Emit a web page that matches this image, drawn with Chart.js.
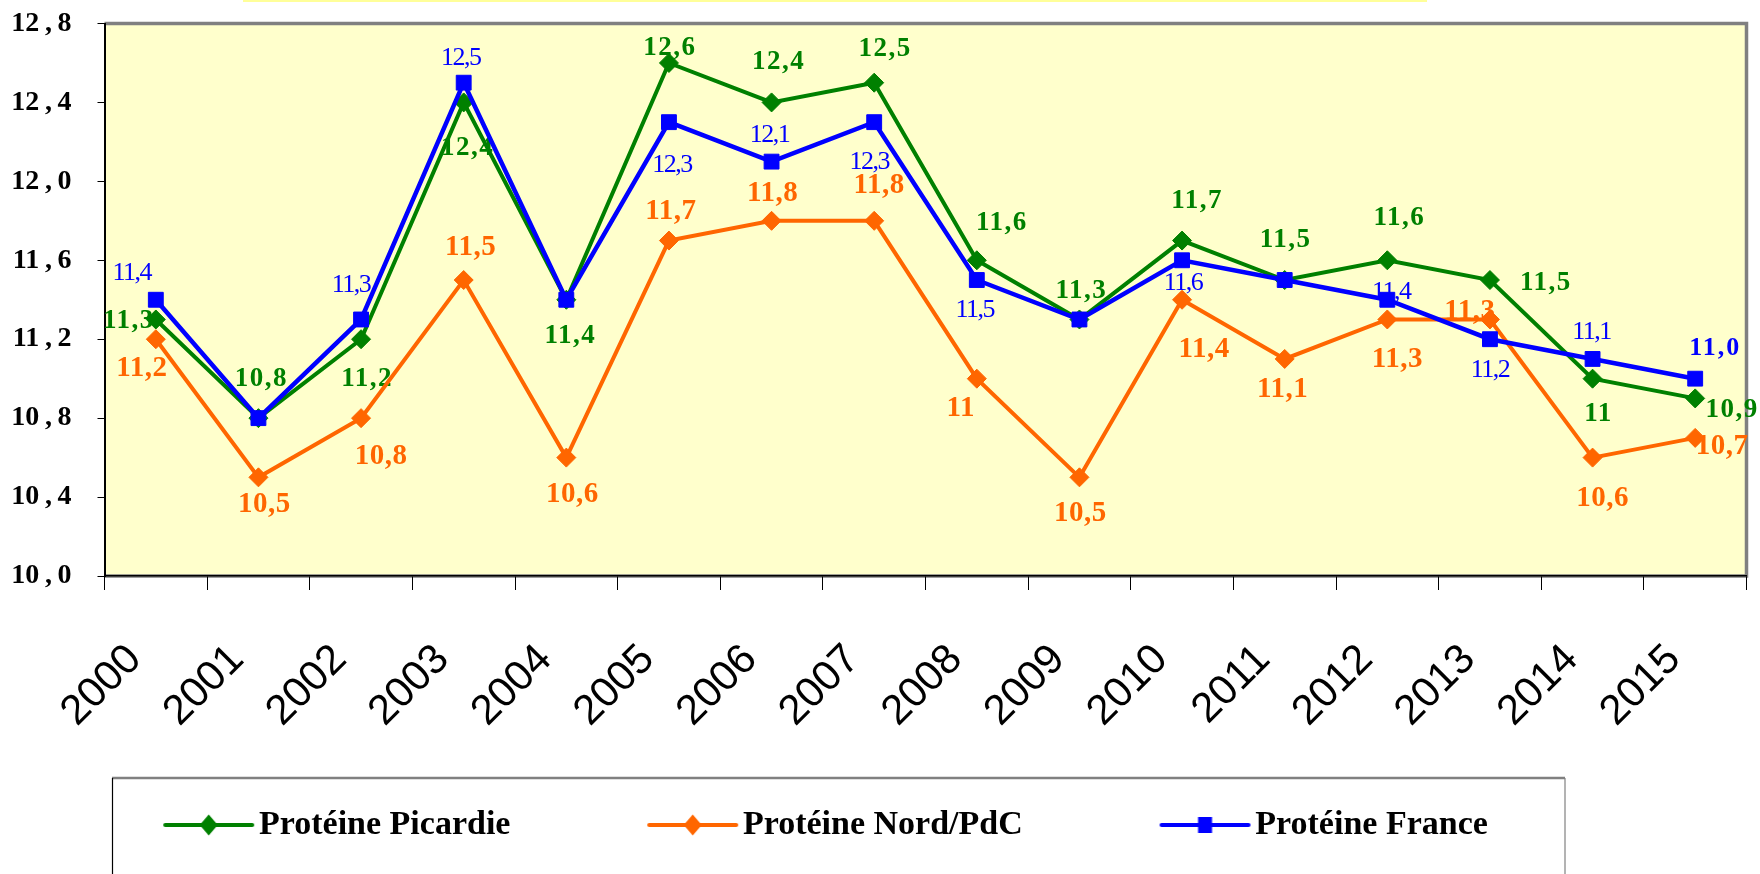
<!DOCTYPE html>
<html>
<head>
<meta charset="utf-8">
<script src="https://cdn.jsdelivr.net/npm/chart.js@4.4.1/dist/chart.umd.min.js"></script>
<style>
html,body{margin:0;padding:0;background:#ffffff;}
#wrap{width:1760px;height:874px;position:relative;}
</style>
</head>
<body>
<div id="wrap"><canvas id="c" width="1760" height="874"></canvas></div>
<script>
// ---------- data ----------
const categories = ['2000','2001','2002','2003','2004','2005','2006','2007','2008','2009','2010','2011','2012','2013','2014','2015'];
const seriesNames = ['Protéine Picardie', 'Protéine Nord/PdC', 'Protéine France'];
const picardie = [11.3, 10.8, 11.2, 12.4, 11.4, 12.6, 12.4, 12.5, 11.6, 11.3, 11.7, 11.5, 11.6, 11.5, 11.0, 10.9];
const nordPdc  = [11.2, 10.5, 10.8, 11.5, 10.6, 11.7, 11.8, 11.8, 11.0, 10.5, 11.4, 11.1, 11.3, 11.3, 10.6, 10.7];
const france   = [11.4, 10.8, 11.3, 12.5, 11.4, 12.3, 12.1, 12.3, 11.5, 11.3, 11.6, 11.5, 11.4, 11.2, 11.1, 11.0];
const yTickValues = [10.0, 10.4, 10.8, 11.2, 11.6, 12.0, 12.4, 12.8];
const yTickLabels = ['10,0', '10,4', '10,8', '11,2', '11,6', '12,0', '12,4', '12,8'];
const picardieLabels = ['11,3','10,8','11,2','12,4','11,4','12,6','12,4','12,5','11,6','11,3','11,7','11,5','11,6','11,5','11','10,9'];
const nordLabels     = ['11,2','10,5','10,8','11,5','10,6','11,7','11,8','11,8','11','10,5','11,4','11,1','11,3','11,3','10,6','10,7'];
const franceLabels   = ['11,4',null,'11,3','12,5',null,'12,3','12,1','12,3','11,5',null,'11,6',null,'11,4','11,2','11,1','11,0'];

// ---------- label placement (offsets from each point, px) ----------
const picardieDx = [-27, 3, 6, 4, 4, 1, 7, 11, 25, 2, 15, 1, 12, 56, 6, 37];
const picardieDy = [2, -39, 40, 46, 36, -15, -40, -34, -37, -28, -40, -40, -42, 3, 35, 12];
const nordDx = [-14, 6, 20, 7, 6, 2, 1, 5, -16, 1, 22, -2, 10, -20, 10, 27];
const nordDy = [29, 27, 38, -33, 37, -29, -27, -35, 30, 36, 50, 31, 40, -8, 41, 9];
const franceDx = [-24, 0, -10, -3, 0, 3, -2, -5, -2, 0, 1, 0, 4, 0, -1, 20];
const franceDy = [-27, 0, -34, -25, 0, 43, -26, 40, 30, 0, 23, 0, -8, 31, -27, -30];
const franceBoldIdx = [15];

const GREEN = '#008000', ORANGE = '#FF6600', BLUE = '#0000FF';

const labelSets = [
  {texts: picardieLabels, dx: picardieDx, dy: picardieDy, color: GREEN, font: 'bold 27px "Liberation Serif"', spacing: '1.5px'},
  {texts: nordLabels, dx: nordDx, dy: nordDy, color: ORANGE, font: 'bold 29px "Liberation Serif"', spacing: '0.5px'},
  {texts: franceLabels, dx: franceDx, dy: franceDy, color: BLUE, font: '26px "Liberation Serif"', spacing: '-1.5px',
   boldIdx: franceBoldIdx, boldFont: 'bold 26px "Liberation Serif"', boldSpacing: '2px'}
];

// ---------- legend geometry ----------
const LEGEND_FONT = 34;
const LEGEND_BOX = 195.5;   // reserved symbol width
const LEGEND_PAD = 20;
const LEGEND_SHIFT = 26.5;  // horizontal shift of the legend block

// legend icons (line + marker, drawn at the right end of a wider transparent canvas)
function makeIcon(color, shape) {
  const c = document.createElement('canvas');
  c.width = 222; c.height = 24;
  const g = c.getContext('2d');
  g.strokeStyle = color; g.lineWidth = 4; g.lineCap = 'round';
  g.beginPath(); g.moveTo(132, 12); g.lineTo(219, 12); g.stroke();
  g.fillStyle = color;
  const cx = 175.5;
  if (shape === 'diamond') {
    g.beginPath(); g.moveTo(cx - 9, 12); g.lineTo(cx, 1.5); g.lineTo(cx + 9, 12); g.lineTo(cx, 22.5); g.closePath(); g.fill();
  } else {
    g.fillRect(cx - 7, 4, 14, 16);
  }
  return c;
}
const legendIcons = [makeIcon(GREEN, 'diamond'), makeIcon(ORANGE, 'diamond'), makeIcon(BLUE, 'square')];

// ---------- decoration plugin ----------
const decoPlugin = {
  id: 'deco',
  afterLayout(chart) {
    if (chart.legend) { chart.legend.left += LEGEND_SHIFT; }
  },
  beforeDraw(chart) {
    const {ctx, chartArea: a} = chart;
    ctx.save();
    ctx.fillStyle = '#FFFF99';
    ctx.fillRect(243, 0, 1184, 2);
    ctx.fillStyle = '#FFFFCC';
    ctx.fillRect(a.left, a.top, a.right - a.left, a.bottom - a.top);
    ctx.strokeStyle = '#808080';
    ctx.lineWidth = 3.5;
    ctx.beginPath();
    ctx.moveTo(a.left, a.top); ctx.lineTo(a.right, a.top); ctx.lineTo(a.right, a.bottom); ctx.lineTo(a.left, a.bottom);
    ctx.stroke();
    // legend frame
    ctx.lineWidth = 2.5; ctx.strokeStyle = '#808080';
    ctx.beginPath(); ctx.moveTo(112, 778); ctx.lineTo(1565, 778); ctx.stroke();
    ctx.lineWidth = 1.2;
    ctx.beginPath(); ctx.moveTo(1565, 778); ctx.lineTo(1565, 874); ctx.stroke();
    ctx.strokeStyle = '#000';
    ctx.beginPath(); ctx.moveTo(112.5, 778); ctx.lineTo(112.5, 874); ctx.stroke();
    ctx.restore();
  },
  beforeDatasetsDraw(chart) {
    const ctx = chart.ctx;
    labelSets.forEach((s, di) => {
      const meta = chart.getDatasetMeta(di);
      meta.data.forEach((pt, i) => {
        const t = s.texts[i];
        if (!t) return;
        const bold = s.boldIdx && s.boldIdx.includes(i);
        ctx.save();
        ctx.font = bold ? s.boldFont : s.font;
        ctx.letterSpacing = bold ? s.boldSpacing : s.spacing;
        ctx.fillStyle = s.color;
        ctx.textAlign = 'center';
        ctx.textBaseline = 'middle';
        ctx.fillText(t, pt.x + s.dx[i], pt.y + s.dy[i]);
        ctx.restore();
      });
    });
  }
};

// ---------- chart ----------
new Chart(document.getElementById('c'), {
  type: 'line',
  data: {
    labels: categories,
    datasets: [
      {label: seriesNames[0], data: picardie, borderColor: GREEN, backgroundColor: GREEN, borderWidth: 4,
       pointStyle: 'rectRot', pointRadius: 9.5, pointBorderWidth: 1, pointBackgroundColor: GREEN, pointBorderColor: GREEN, order: 1},
      {label: seriesNames[1], data: nordPdc, borderColor: ORANGE, backgroundColor: ORANGE, borderWidth: 4,
       pointStyle: 'rectRot', pointRadius: 9.5, pointBorderWidth: 1, pointBackgroundColor: ORANGE, pointBorderColor: ORANGE, order: 2},
      {label: seriesNames[2], data: france, borderColor: BLUE, backgroundColor: BLUE, borderWidth: 4.5,
       pointStyle: 'rect', pointRadius: 10.5, pointBorderWidth: 1, pointBackgroundColor: BLUE, pointBorderColor: BLUE, order: 0}
    ]
  },
  options: {
    responsive: false,
    animation: false,
    events: [],
    elements: {line: {tension: 0}},
    layout: {padding: {left: 0, top: 23.5, right: 13.5, bottom: 22}},
    scales: {
      x: {
        type: 'category',
        offset: true,
        grid: {offset: true, drawOnChartArea: false, drawTicks: true, tickLength: 14, color: '#000', lineWidth: 1},
        border: {display: true, color: '#000', width: 1.5},
        ticks: {
          autoSkip: false, maxRotation: 45, minRotation: 45, padding: 45, labelOffset: -21,
          color: '#000', font: {family: '"Liberation Sans", Arial, sans-serif', size: 42, weight: 'normal'}
        },
        afterFit(scale) {
          scale.height = 212;
          scale.paddingLeft = 0; scale.paddingRight = 0; scale.paddingTop = 0; scale.paddingBottom = 0;
        }
      },
      y: {
        type: 'linear',
        min: 10, max: 12.8,
        grid: {drawOnChartArea: false, drawTicks: true, tickLength: 7, color: '#000', lineWidth: 1},
        border: {display: true, color: '#000', width: 2},
        afterBuildTicks(scale) { scale.ticks = yTickValues.map(v => ({value: v})); },
        ticks: {
          padding: 26, color: '#000',
          font: {family: '"Liberation Serif", "Times New Roman", serif', size: 28, weight: 'bold'},
          callback(value, index) { return yTickLabels[index].replace(',', '\u2009,\u2009'); }
        },
        afterFit(scale) {
          scale.width = 104.5;
          scale.paddingTop = 0; scale.paddingBottom = 0;
        }
      }
    },
    plugins: {
      tooltip: {enabled: false},
      title: {display: false},
      legend: {
        display: true,
        position: 'bottom',
        align: 'start',
        labels: {
          usePointStyle: true,
          pointStyleWidth: LEGEND_BOX,
          boxHeight: 20,
          padding: LEGEND_PAD,
          color: '#000',
          font: {family: '"Liberation Serif", "Times New Roman", serif', size: LEGEND_FONT, weight: 'bold'},
          generateLabels(chart) {
            return chart.data.datasets.map((ds, i) => ({
              text: ds.label, pointStyle: legendIcons[i], fillStyle: ds.borderColor,
              strokeStyle: ds.borderColor, lineWidth: 0, hidden: false, datasetIndex: i
            }));
          }
        }
      }
    }
  },
  plugins: [decoPlugin]
});
</script>
</body>
</html>
